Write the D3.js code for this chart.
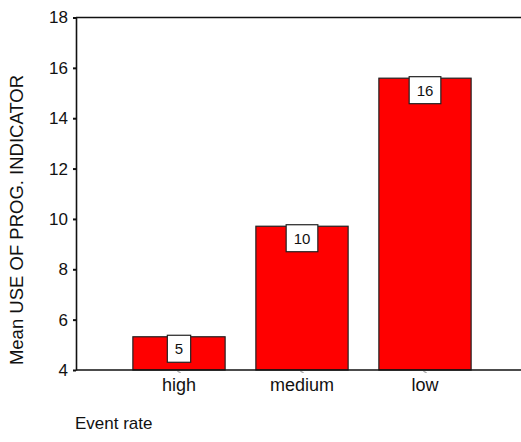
<!DOCTYPE html>
<html>
<head>
<meta charset="utf-8">
<script src="https://cdn.jsdelivr.net/npm/d3@7"></script>
<style>
  html, body { margin: 0; padding: 0; background: #fff; }
  svg { display: block; }
  text { font-family: Arial, "Liberation Sans", sans-serif; fill: #111; }
</style>
</head>
<body>
<svg id="chart" width="521" height="442"></svg>
<script>
// Data
const categories = ["high", "medium", "low"];
const meanValues = [5.32, 9.71, 15.59];
const valueLabels = ["5", "10", "16"];
const yTicks = [4, 6, 8, 10, 12, 14, 16, 18];
const yTitle = "Mean USE OF PROG. INDICATOR";
const xTitle = "Event rate";

const W = 521, H = 442;
const svg = d3.select("#chart");

const x0 = 76, plotTop = 17.5, plotBottom = 370;

const y = d3.scaleLinear().domain([4, 18]).range([plotBottom, plotTop]);
const x = d3.scaleBand().domain(categories).range([117.5, 486.5])
  .paddingInner(0.25).paddingOuter(0.125);

// bars
svg.append("g").selectAll("rect").data(categories).join("rect")
  .attr("x", d => x(d))
  .attr("y", (d, i) => y(meanValues[i]))
  .attr("width", x.bandwidth())
  .attr("height", (d, i) => y(4) - y(meanValues[i]))
  .attr("fill", "#ff0000")
  .attr("stroke", "#222")
  .attr("stroke-width", 1.2);

// frame lines: top and bottom
svg.append("line").attr("x1", x0).attr("x2", W).attr("y1", y(18)).attr("y2", y(18))
  .attr("stroke", "#111").attr("stroke-width", 1.6);
svg.append("line").attr("x1", x0).attr("x2", W).attr("y1", y(4)).attr("y2", y(4))
  .attr("stroke", "#111").attr("stroke-width", 1.6);

// y axis
const yAxis = svg.append("g").attr("transform", `translate(${x0},0)`)
  .call(d3.axisLeft(y).tickValues(yTicks).tickFormat(d3.format("d"))
    .tickSize(3).tickSizeOuter(0).tickPadding(5));
yAxis.select(".domain").attr("stroke", "#111").attr("stroke-width", 1.6);
yAxis.selectAll(".tick line").attr("stroke", "#111").attr("stroke-width", 2);
yAxis.selectAll(".tick text").attr("font-size", 17).attr("fill", "#333")
  .style("font-family", "Arial, 'Liberation Sans', sans-serif");

// x axis (category ticks + labels)
const xAxis = svg.append("g").attr("transform", `translate(0,${plotBottom})`)
  .call(d3.axisBottom(x).tickSize(3).tickPadding(5).tickSizeOuter(0));
xAxis.select(".domain").remove();
xAxis.selectAll(".tick line").attr("stroke", "#888")
  .attr("y1", 1.5).attr("y2", 2.5)
  .attr("x1", -1.5).attr("x2", 1.5).attr("stroke-width", 1);
xAxis.selectAll(".tick text").attr("font-size", 18).attr("fill", "#333")
  .style("font-family", "Arial, 'Liberation Sans', sans-serif");

// value label boxes
const lab = svg.append("g").selectAll("g").data(categories).join("g")
  .attr("transform", (d, i) => `translate(${x(d) + x.bandwidth() / 2},${y(meanValues[i]) - 1.5})`);
lab.append("text")
  .attr("text-anchor", "middle")
  .attr("y", 19)
  .attr("font-size", 15)
  .attr("fill", "#222")
  .text((d, i) => valueLabels[i])
  .each(function () {
    const bb = this.getBBox();
    const wBox = bb.width + 15;
    d3.select(this.parentNode).insert("rect", "text")
      .attr("x", -wBox / 2).attr("y", 0)
      .attr("width", wBox).attr("height", 27)
      .attr("fill", "#fff").attr("stroke", "#222").attr("stroke-width", 1.2);
  });

// titles
svg.append("text")
  .attr("transform", `translate(23,${(70 + 370) / 2}) rotate(-90)`)
  .attr("text-anchor", "middle")
  .attr("font-size", 18.5)
  .attr("fill", "#333")
  .text(yTitle);

svg.append("text")
  .attr("x", 75).attr("y", 429)
  .attr("font-size", 17)
  .attr("fill", "#333")
  .text(xTitle);
</script>
</body>
</html>
